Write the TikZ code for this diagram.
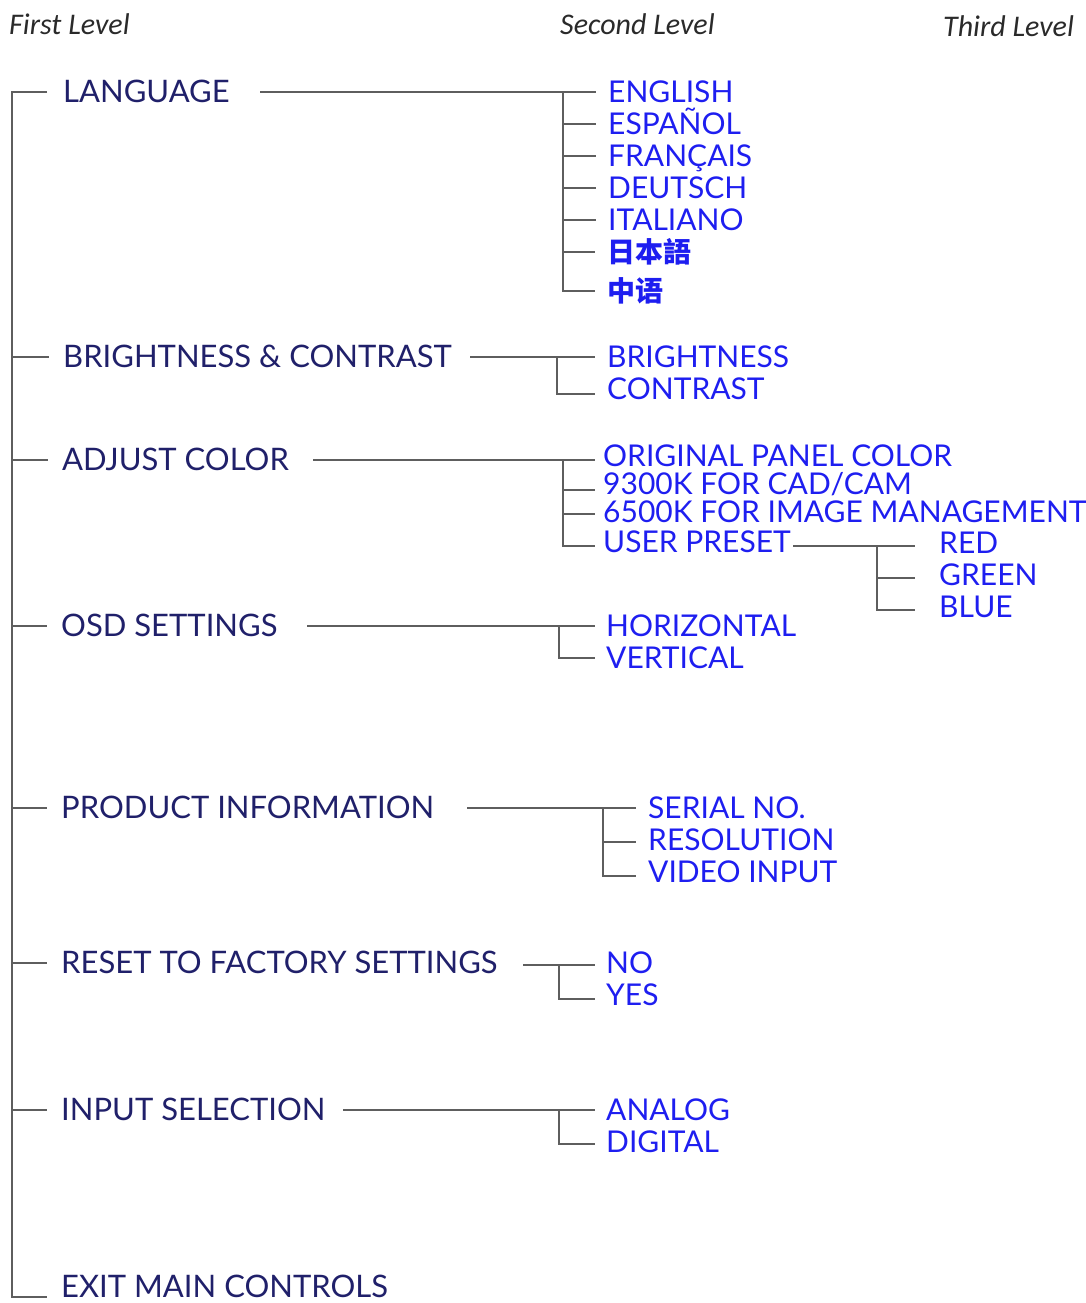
\documentclass[tikz,border=0pt]{standalone}
\usepackage{fontspec}
\setmainfont{Lato}
\newfontfamily\hdrfont{Carlito}
\newfontfamily\cjk{Noto Sans CJK SC}
\definecolor{navy}{HTML}{20206A}
\definecolor{bluetxt}{HTML}{1E1EF0}
\definecolor{wiregray}{HTML}{5E5E5E}
\definecolor{hdrgray}{HTML}{2A2A2A}
\tikzset{
  base/.style={anchor=west, inner sep=0pt, text height=21pt, text depth=0pt},
  lvlone/.style={base, text=navy, font=\fontsize{31}{35}\selectfont},
  lvltwo/.style={base, text=bluetxt, font=\fontsize{30}{34}\selectfont},
  lvlcjk/.style={base, text=bluetxt, font=\cjk\bfseries\fontsize{28}{32}\selectfont},
  hdr/.style={anchor=west, inner sep=0pt, text=hdrgray, font=\hdrfont\itshape\fontsize{30}{34}\selectfont},
  wire/.style={draw=wiregray, line width=1.8pt},
}
\begin{document}
\begin{tikzpicture}[x=1pt,y=-1pt]
\useasboundingbox (0,0) rectangle (1086,1303);
% headers
\node[hdr] (h1) at (9,24) {First Level};
\node[hdr] (h2) at (560,24) {Second Level};
\node[hdr] (h3) at (943,26) {Third Level};
% level one
\node[lvlone] (lang) at (63,92) {LANGUAGE};
\node[lvlone] (brc) at (63,357) {BRIGHTNESS \& CONTRAST};
\node[lvlone] (adj) at (62,460) {ADJUST COLOR};
\node[lvlone] (osd) at (61,626) {OSD SETTINGS};
\node[lvlone] (prod) at (61,808) {PRODUCT INFORMATION};
\node[lvlone] (rst) at (61,963) {RESET TO FACTORY SETTINGS};
\node[lvlone] (inp) at (61,1110) {INPUT SELECTION};
\node[lvlone] (exit) at (61,1287) {EXIT MAIN CONTROLS};
% main trunk
\coordinate (top) at (12,92);
\coordinate (bot) at (12,1297);
\coordinate (botend) at (47,1297);
\draw[wire] (lang.west) ++(-16,0) -- (top) -- (bot) -- (botend);
\foreach \n in {brc,adj,osd,prod,rst,inp}
  \draw[wire] (top |- \n.west) -- ([xshift=-14pt]\n.west);
% language children
\node[lvltwo] (en) at (608,92) {ENGLISH};
\node[lvltwo] (es) at (608,124) {ESPAÑOL};
\node[lvltwo] (fr) at (608,156) {FRANÇAIS};
\node[lvltwo] (de) at (608,188) {DEUTSCH};
\node[lvltwo] (it) at (608,220) {ITALIANO};
\node[lvlcjk] (ja) at (607,252) {日本語};
\node[lvlcjk] (zh) at (607,291) {中语};
\coordinate (langS) at (260,92);
\coordinate (langJ) at (563,92);
\draw[wire] (langS) -- (langJ) -- (langJ |- zh.west) -- ([xshift=-12pt]zh.west);
\foreach \n in {en,es,fr,de,it,ja}
  \draw[wire] (langJ |- \n.west) -- ([xshift=-12pt]\n.west);
% brightness children
\node[lvltwo] (bri) at (607,357) {BRIGHTNESS};
\node[lvltwo] (con) at (607,389) {CONTRAST};
\coordinate (brcS) at (470,357);
\coordinate (brcJ) at (557,357);
\draw[wire] (brcS) -- ([xshift=-12pt]bri.west);
\draw[wire] (brcJ) -- (brcJ |- 0,394) -- ([xshift=-12pt]con.west |- 0,394);
% adjust color children
\node[lvltwo] (orig) at (603,456) {ORIGINAL PANEL COLOR};
\node[lvltwo] (k93) at (603,484) {9300K FOR CAD/CAM};
\node[lvltwo] (k65) at (603,512) {6500K FOR IMAGE MANAGEMENT};
\node[lvltwo] (usr) at (603,542) {USER PRESET};
\coordinate (adjS) at (313,460);
\coordinate (adjJ) at (563,460);
\draw[wire] (adjS) -- ([xshift=-8pt]orig.west |- adjS);
\draw[wire] (adjJ) -- (adjJ |- 0,546) -- ([xshift=-8pt]usr.west |- 0,546);
\draw[wire] (adjJ |- 0,490) -- ([xshift=-8pt]k93.west |- 0,490);
\draw[wire] (adjJ |- 0,514) -- ([xshift=-8pt]k65.west |- 0,514);
% user preset children
\node[lvltwo] (red) at (939,543) {RED};
\node[lvltwo] (grn) at (939,575) {GREEN};
\node[lvltwo] (blu) at (939,607) {BLUE};
\coordinate (usrS) at (793,546);
\coordinate (usrJ) at (877,546);
\draw[wire] (usrS) -- ([xshift=-24pt]red.west |- usrS);
\draw[wire] (usrJ) -- (usrJ |- 0,610) -- ([xshift=-24pt]blu.west |- 0,610);
\draw[wire] (usrJ |- 0,578) -- ([xshift=-24pt]grn.west |- 0,578);
% osd children
\node[lvltwo] (hor) at (606,626) {HORIZONTAL};
\node[lvltwo] (ver) at (606,658) {VERTICAL};
\coordinate (osdS) at (307,626);
\coordinate (osdJ) at (559,626);
\draw[wire] (osdS) -- ([xshift=-11pt]hor.west);
\draw[wire] (osdJ) -- (osdJ |- ver.west) -- ([xshift=-11pt]ver.west);
% product children
\node[lvltwo] (ser) at (648,808) {SERIAL NO.};
\node[lvltwo] (res) at (648,840) {RESOLUTION};
\node[lvltwo] (vid) at (648,872) {VIDEO INPUT};
\coordinate (prodS) at (467,808);
\coordinate (prodJ) at (603,808);
\draw[wire] (prodS) -- ([xshift=-12pt]ser.west);
\draw[wire] (prodJ) -- (prodJ |- 0,876) -- ([xshift=-12pt]vid.west |- 0,876);
\draw[wire] (prodJ |- 0,842) -- ([xshift=-12pt]res.west |- 0,842);
% reset children
\node[lvltwo] (no) at (606,963) {NO};
\node[lvltwo] (yes) at (606,995) {YES};
\coordinate (rstS) at (523,965);
\coordinate (rstJ) at (559,965);
\draw[wire] (rstS) -- ([xshift=-11pt]no.west |- rstS);
\draw[wire] (rstJ) -- (rstJ |- 0,999) -- ([xshift=-11pt]yes.west |- 0,999);
% input children
\node[lvltwo] (ana) at (606,1110) {ANALOG};
\node[lvltwo] (dig) at (606,1142) {DIGITAL};
\coordinate (inpS) at (343,1110);
\coordinate (inpJ) at (559,1110);
\draw[wire] (inpS) -- ([xshift=-11pt]ana.west);
\draw[wire] (inpJ) -- (inpJ |- 0,1144) -- ([xshift=-11pt]dig.west |- 0,1144);
\end{tikzpicture}
\end{document}
